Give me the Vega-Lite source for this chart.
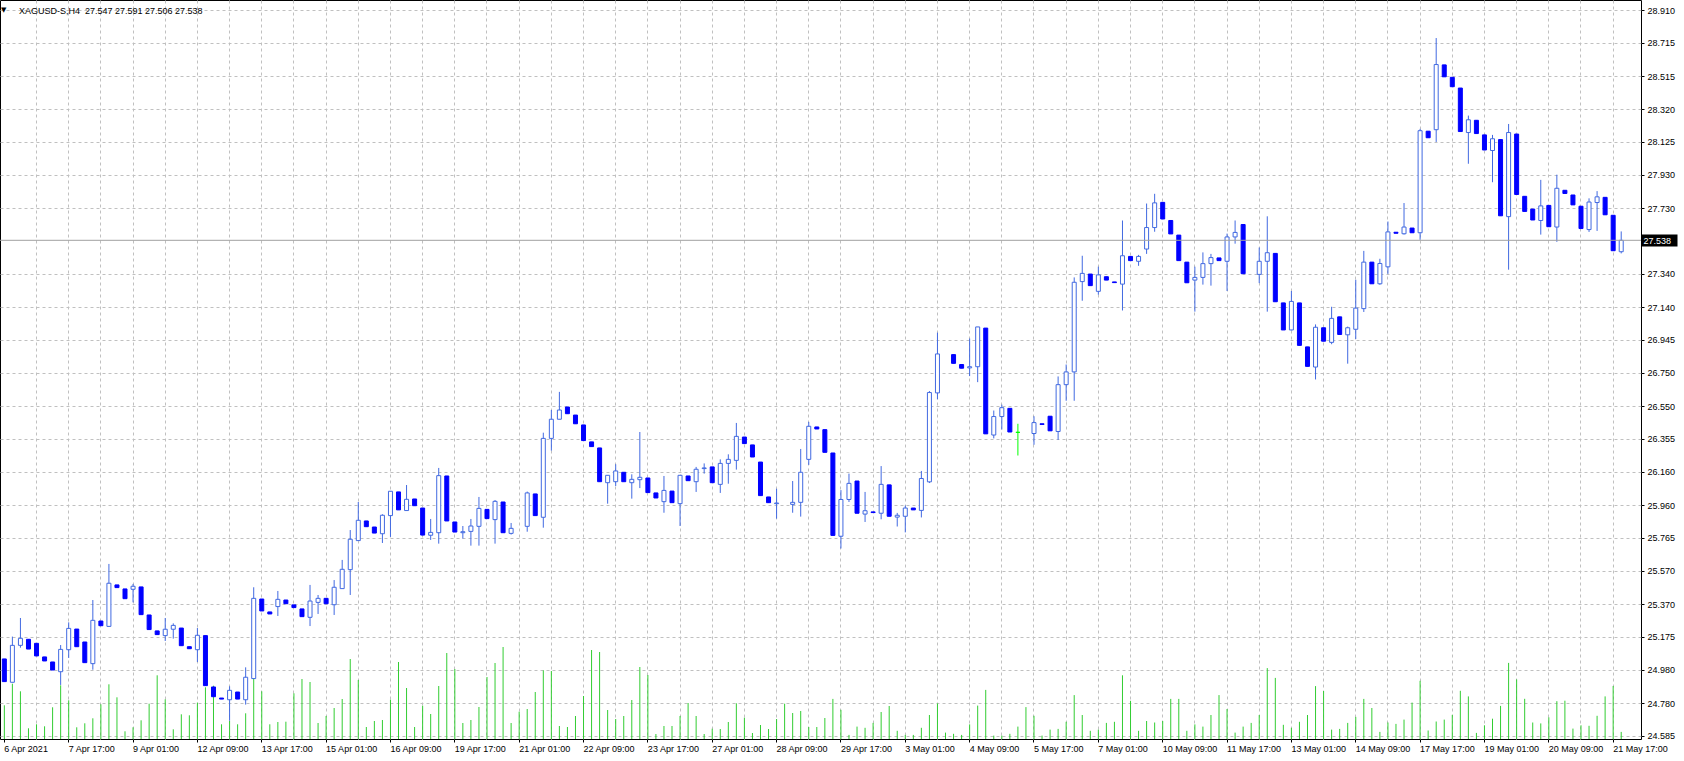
{
"$schema": "https://vega.github.io/schema/vega-lite/v6.json",
"width": 1641, "height": 739,
"autosize": {"type": "none"},
"padding": {"left": 0, "top": 0, "right": 43, "bottom": 22},
"background": "#FFFFFF",
"config": {
  "view": {"stroke": "#000000", "strokeWidth": 1},
  "axis": {"labelFont": "Liberation Sans", "labelFontSize": 9, "labelColor": "#000000", "tickColor": "#000000", "gridColor": "#C0C0C0", "gridDash": [3, 3], "gridWidth": 1, "domain": false, "title": null}
},
"datasets": {"bars": [
{"t":"6 Apr 09:00","o":25.044,"h":25.044,"l":24.909,"c":24.909,"v":3370},
{"t":"6 Apr 13:00","o":24.905,"h":25.177,"l":24.905,"c":25.125,"v":5530},
{"t":"6 Apr 17:00","o":25.125,"h":25.288,"l":25.111,"c":25.167,"v":4770},
{"t":"6 Apr 21:00","o":25.161,"h":25.161,"l":25.103,"c":25.103,"v":1070},
{"t":"7 Apr 01:00","o":25.137,"h":25.137,"l":25.062,"c":25.062,"v":1470},
{"t":"7 Apr 05:00","o":25.056,"h":25.056,"l":25.032,"c":25.032,"v":1270},
{"t":"7 Apr 09:00","o":25.026,"h":25.026,"l":24.978,"c":24.978,"v":3170},
{"t":"7 Apr 13:00","o":24.968,"h":25.127,"l":24.889,"c":25.101,"v":5370},
{"t":"7 Apr 17:00","o":25.099,"h":25.262,"l":25.050,"c":25.226,"v":3870},
{"t":"7 Apr 21:00","o":25.222,"h":25.222,"l":25.117,"c":25.117,"v":1170},
{"t":"8 Apr 01:00","o":25.145,"h":25.145,"l":25.022,"c":25.022,"v":1570},
{"t":"8 Apr 05:00","o":25.016,"h":25.395,"l":24.980,"c":25.274,"v":2070},
{"t":"8 Apr 09:00","o":25.270,"h":25.270,"l":25.242,"c":25.242,"v":3470},
{"t":"8 Apr 13:00","o":25.238,"h":25.610,"l":25.236,"c":25.495,"v":5470},
{"t":"8 Apr 17:00","o":25.485,"h":25.485,"l":25.469,"c":25.469,"v":4170},
{"t":"8 Apr 21:00","o":25.461,"h":25.461,"l":25.403,"c":25.403,"v":770},
{"t":"9 Apr 01:00","o":25.459,"h":25.491,"l":25.381,"c":25.477,"v":1170},
{"t":"9 Apr 05:00","o":25.473,"h":25.473,"l":25.308,"c":25.308,"v":1870},
{"t":"9 Apr 09:00","o":25.306,"h":25.306,"l":25.219,"c":25.219,"v":3530},
{"t":"9 Apr 13:00","o":25.211,"h":25.211,"l":25.189,"c":25.189,"v":6370},
{"t":"9 Apr 17:00","o":25.183,"h":25.288,"l":25.151,"c":25.221,"v":3970},
{"t":"9 Apr 21:00","o":25.221,"h":25.256,"l":25.165,"c":25.244,"v":970},
{"t":"12 Apr 01:00","o":25.228,"h":25.228,"l":25.123,"c":25.123,"v":2470},
{"t":"12 Apr 05:00","o":25.117,"h":25.117,"l":25.105,"c":25.105,"v":2370},
{"t":"12 Apr 09:00","o":25.099,"h":25.228,"l":25.026,"c":25.185,"v":3630},
{"t":"12 Apr 13:00","o":25.183,"h":25.183,"l":24.885,"c":24.885,"v":5170},
{"t":"12 Apr 17:00","o":24.877,"h":24.877,"l":24.819,"c":24.819,"v":5330},
{"t":"12 Apr 21:00","o":24.811,"h":24.811,"l":24.805,"c":24.805,"v":1470},
{"t":"13 Apr 01:00","o":24.801,"h":24.881,"l":24.676,"c":24.857,"v":1800},
{"t":"13 Apr 05:00","o":24.847,"h":24.847,"l":24.805,"c":24.805,"v":1470},
{"t":"13 Apr 09:00","o":24.801,"h":24.994,"l":24.772,"c":24.935,"v":2570},
{"t":"13 Apr 13:00","o":24.927,"h":25.471,"l":24.927,"c":25.405,"v":7130},
{"t":"13 Apr 17:00","o":25.401,"h":25.401,"l":25.330,"c":25.330,"v":4770},
{"t":"13 Apr 21:00","o":25.324,"h":25.324,"l":25.312,"c":25.312,"v":1470},
{"t":"14 Apr 01:00","o":25.356,"h":25.449,"l":25.300,"c":25.399,"v":1700},
{"t":"14 Apr 05:00","o":25.395,"h":25.395,"l":25.373,"c":25.373,"v":1730},
{"t":"14 Apr 09:00","o":25.366,"h":25.366,"l":25.350,"c":25.350,"v":4570},
{"t":"14 Apr 13:00","o":25.342,"h":25.342,"l":25.296,"c":25.296,"v":6000},
{"t":"14 Apr 17:00","o":25.292,"h":25.485,"l":25.240,"c":25.389,"v":5700},
{"t":"14 Apr 21:00","o":25.381,"h":25.425,"l":25.312,"c":25.405,"v":1600},
{"t":"15 Apr 01:00","o":25.405,"h":25.405,"l":25.373,"c":25.373,"v":2300},
{"t":"15 Apr 05:00","o":25.367,"h":25.514,"l":25.306,"c":25.471,"v":3100},
{"t":"15 Apr 09:00","o":25.463,"h":25.634,"l":25.463,"c":25.578,"v":4000},
{"t":"15 Apr 13:00","o":25.576,"h":25.812,"l":25.425,"c":25.757,"v":8000},
{"t":"15 Apr 17:00","o":25.749,"h":25.979,"l":25.749,"c":25.870,"v":5900},
{"t":"15 Apr 21:00","o":25.866,"h":25.866,"l":25.832,"c":25.832,"v":1200},
{"t":"16 Apr 01:00","o":25.830,"h":25.830,"l":25.794,"c":25.794,"v":1800},
{"t":"16 Apr 05:00","o":25.790,"h":25.906,"l":25.735,"c":25.900,"v":1900},
{"t":"16 Apr 09:00","o":25.898,"h":26.043,"l":25.771,"c":26.043,"v":3930},
{"t":"16 Apr 13:00","o":26.039,"h":26.039,"l":25.932,"c":25.932,"v":7700},
{"t":"16 Apr 17:00","o":25.928,"h":26.080,"l":25.928,"c":25.995,"v":5100},
{"t":"16 Apr 21:00","o":25.997,"h":25.997,"l":25.957,"c":25.957,"v":1200},
{"t":"19 Apr 01:00","o":25.943,"h":25.943,"l":25.782,"c":25.782,"v":3330},
{"t":"19 Apr 05:00","o":25.781,"h":25.878,"l":25.753,"c":25.798,"v":2500},
{"t":"19 Apr 09:00","o":25.796,"h":26.182,"l":25.731,"c":26.136,"v":5300},
{"t":"19 Apr 13:00","o":26.134,"h":26.134,"l":25.866,"c":25.866,"v":8600},
{"t":"19 Apr 17:00","o":25.860,"h":25.860,"l":25.800,"c":25.800,"v":7000},
{"t":"19 Apr 21:00","o":25.796,"h":25.836,"l":25.761,"c":25.802,"v":1600},
{"t":"20 Apr 01:00","o":25.804,"h":25.878,"l":25.719,"c":25.836,"v":1900},
{"t":"20 Apr 05:00","o":25.834,"h":26.009,"l":25.719,"c":25.941,"v":3200},
{"t":"20 Apr 09:00","o":25.935,"h":25.935,"l":25.880,"c":25.880,"v":6200},
{"t":"20 Apr 13:00","o":25.874,"h":25.991,"l":25.731,"c":25.983,"v":7600},
{"t":"20 Apr 17:00","o":25.979,"h":25.979,"l":25.796,"c":25.796,"v":9200},
{"t":"20 Apr 21:00","o":25.792,"h":25.854,"l":25.785,"c":25.822,"v":1600},
{"t":"21 Apr 01:00","o":25.830,"h":25.830,"l":25.830,"c":25.830,"v":2730},
{"t":"21 Apr 05:00","o":25.834,"h":26.041,"l":25.802,"c":26.033,"v":3000},
{"t":"21 Apr 09:00","o":26.027,"h":26.027,"l":25.898,"c":25.898,"v":4700},
{"t":"21 Apr 13:00","o":25.888,"h":26.392,"l":25.826,"c":26.358,"v":6870},
{"t":"21 Apr 17:00","o":26.358,"h":26.527,"l":26.285,"c":26.472,"v":6800},
{"t":"21 Apr 21:00","o":26.472,"h":26.635,"l":26.472,"c":26.527,"v":1300},
{"t":"22 Apr 01:00","o":26.545,"h":26.545,"l":26.505,"c":26.505,"v":1200},
{"t":"22 Apr 05:00","o":26.497,"h":26.497,"l":26.445,"c":26.445,"v":2300},
{"t":"22 Apr 09:00","o":26.438,"h":26.438,"l":26.345,"c":26.345,"v":4300},
{"t":"22 Apr 13:00","o":26.337,"h":26.337,"l":26.309,"c":26.309,"v":8900},
{"t":"22 Apr 17:00","o":26.301,"h":26.301,"l":26.100,"c":26.100,"v":8700},
{"t":"22 Apr 21:00","o":26.094,"h":26.138,"l":25.969,"c":26.138,"v":2900},
{"t":"23 Apr 01:00","o":26.100,"h":26.204,"l":26.074,"c":26.164,"v":2000},
{"t":"23 Apr 05:00","o":26.156,"h":26.156,"l":26.100,"c":26.100,"v":2300},
{"t":"23 Apr 09:00","o":26.094,"h":26.144,"l":25.999,"c":26.114,"v":3900},
{"t":"23 Apr 13:00","o":26.112,"h":26.396,"l":26.062,"c":26.126,"v":7200},
{"t":"23 Apr 17:00","o":26.122,"h":26.122,"l":26.035,"c":26.035,"v":6400},
{"t":"23 Apr 21:00","o":26.033,"h":26.033,"l":26.003,"c":26.003,"v":500},
{"t":"26 Apr 01:00","o":25.981,"h":26.134,"l":25.915,"c":26.048,"v":1300},
{"t":"26 Apr 05:00","o":26.044,"h":26.044,"l":25.975,"c":25.975,"v":1300},
{"t":"26 Apr 09:00","o":25.969,"h":26.138,"l":25.836,"c":26.138,"v":2300},
{"t":"26 Apr 13:00","o":26.134,"h":26.134,"l":26.106,"c":26.106,"v":3600},
{"t":"26 Apr 17:00","o":26.100,"h":26.188,"l":26.039,"c":26.174,"v":2300},
{"t":"26 Apr 21:00","o":26.178,"h":26.209,"l":26.148,"c":26.182,"v":500},
{"t":"27 Apr 01:00","o":26.188,"h":26.188,"l":26.094,"c":26.094,"v":1030},
{"t":"27 Apr 05:00","o":26.084,"h":26.233,"l":26.033,"c":26.209,"v":1000},
{"t":"27 Apr 09:00","o":26.209,"h":26.263,"l":26.088,"c":26.233,"v":1700},
{"t":"27 Apr 13:00","o":26.227,"h":26.450,"l":26.172,"c":26.370,"v":3570},
{"t":"27 Apr 17:00","o":26.366,"h":26.366,"l":26.327,"c":26.327,"v":2130},
{"t":"27 Apr 21:00","o":26.319,"h":26.319,"l":26.247,"c":26.247,"v":600},
{"t":"28 Apr 01:00","o":26.217,"h":26.217,"l":26.017,"c":26.017,"v":1400},
{"t":"28 Apr 05:00","o":26.009,"h":26.009,"l":25.975,"c":25.975,"v":1000},
{"t":"28 Apr 09:00","o":25.969,"h":26.058,"l":25.880,"c":25.973,"v":2000},
{"t":"28 Apr 13:00","o":25.970,"h":25.970,"l":25.970,"c":25.970,"v":3530},
{"t":"28 Apr 17:00","o":25.965,"h":26.104,"l":25.915,"c":25.977,"v":2600},
{"t":"28 Apr 21:00","o":25.977,"h":26.295,"l":25.892,"c":26.156,"v":2800},
{"t":"29 Apr 01:00","o":26.233,"h":26.456,"l":26.200,"c":26.430,"v":1200},
{"t":"29 Apr 05:00","o":26.426,"h":26.426,"l":26.414,"c":26.414,"v":1200},
{"t":"29 Apr 09:00","o":26.410,"h":26.410,"l":26.275,"c":26.275,"v":2100},
{"t":"29 Apr 13:00","o":26.271,"h":26.271,"l":25.780,"c":25.780,"v":4010},
{"t":"29 Apr 17:00","o":25.775,"h":26.050,"l":25.702,"c":25.994,"v":2920},
{"t":"29 Apr 21:00","o":25.994,"h":26.148,"l":25.979,"c":26.090,"v":410},
{"t":"30 Apr 01:00","o":26.104,"h":26.104,"l":25.912,"c":25.912,"v":1240},
{"t":"30 Apr 05:00","o":25.907,"h":26.039,"l":25.860,"c":25.927,"v":1120},
{"t":"30 Apr 09:00","o":25.920,"h":25.920,"l":25.916,"c":25.916,"v":1610},
{"t":"30 Apr 13:00","o":25.912,"h":26.193,"l":25.876,"c":26.084,"v":2700},
{"t":"30 Apr 17:00","o":26.081,"h":26.081,"l":25.894,"c":25.894,"v":3300},
{"t":"30 Apr 21:00","o":25.889,"h":25.914,"l":25.833,"c":25.900,"v":820},
{"t":"3 May 01:00","o":25.894,"h":25.958,"l":25.798,"c":25.943,"v":410},
{"t":"3 May 05:00","o":25.943,"h":25.943,"l":25.932,"c":25.932,"v":410},
{"t":"3 May 09:00","o":25.929,"h":26.164,"l":25.887,"c":26.119,"v":1120},
{"t":"3 May 13:00","o":26.099,"h":26.640,"l":26.092,"c":26.631,"v":2400},
{"t":"3 May 17:00","o":26.629,"h":26.988,"l":26.591,"c":26.861,"v":3560},
{"t":"3 May 21:00","o":26.860,"h":26.860,"l":26.860,"c":26.860,"v":640},
{"t":"4 May 01:00","o":26.857,"h":26.857,"l":26.805,"c":26.805,"v":520},
{"t":"4 May 05:00","o":26.798,"h":26.798,"l":26.776,"c":26.776,"v":410},
{"t":"4 May 09:00","o":26.778,"h":26.953,"l":26.729,"c":26.785,"v":1460},
{"t":"4 May 13:00","o":26.785,"h":27.022,"l":26.693,"c":27.022,"v":3340},
{"t":"4 May 17:00","o":27.015,"h":27.015,"l":26.385,"c":26.385,"v":4910},
{"t":"4 May 21:00","o":26.378,"h":26.524,"l":26.358,"c":26.488,"v":340},
{"t":"5 May 01:00","o":26.488,"h":26.559,"l":26.411,"c":26.541,"v":340},
{"t":"5 May 05:00","o":26.537,"h":26.537,"l":26.396,"c":26.396,"v":520},
{"t":"5 May 09:00","o":26.394,"h":26.445,"l":26.256,"c":26.394,"v":1240},
{"t":"5 May 13:00","o":26.390,"h":26.390,"l":26.390,"c":26.390,"v":3190},
{"t":"5 May 17:00","o":26.387,"h":26.490,"l":26.320,"c":26.452,"v":2320},
{"t":"5 May 21:00","o":26.445,"h":26.445,"l":26.441,"c":26.441,"v":340},
{"t":"6 May 01:00","o":26.490,"h":26.490,"l":26.403,"c":26.403,"v":940},
{"t":"6 May 05:00","o":26.399,"h":26.727,"l":26.349,"c":26.678,"v":1010},
{"t":"6 May 09:00","o":26.678,"h":26.798,"l":26.582,"c":26.754,"v":1720},
{"t":"6 May 13:00","o":26.754,"h":27.317,"l":26.582,"c":27.288,"v":4390},
{"t":"6 May 17:00","o":27.292,"h":27.446,"l":27.178,"c":27.341,"v":2400},
{"t":"6 May 21:00","o":27.337,"h":27.337,"l":27.268,"c":27.268,"v":820},
{"t":"7 May 01:00","o":27.234,"h":27.381,"l":27.214,"c":27.332,"v":940},
{"t":"7 May 05:00","o":27.321,"h":27.321,"l":27.301,"c":27.301,"v":1610},
{"t":"7 May 09:00","o":27.290,"h":27.290,"l":27.286,"c":27.286,"v":1720},
{"t":"7 May 13:00","o":27.277,"h":27.656,"l":27.120,"c":27.446,"v":6370},
{"t":"7 May 17:00","o":27.442,"h":27.442,"l":27.417,"c":27.417,"v":3820},
{"t":"7 May 21:00","o":27.413,"h":27.451,"l":27.386,"c":27.442,"v":820},
{"t":"10 May 01:00","o":27.486,"h":27.757,"l":27.457,"c":27.614,"v":1800},
{"t":"10 May 05:00","o":27.614,"h":27.815,"l":27.589,"c":27.761,"v":1650},
{"t":"10 May 09:00","o":27.764,"h":27.764,"l":27.665,"c":27.665,"v":1800},
{"t":"10 May 13:00","o":27.656,"h":27.656,"l":27.576,"c":27.576,"v":4010},
{"t":"10 May 17:00","o":27.569,"h":27.569,"l":27.417,"c":27.417,"v":4010},
{"t":"10 May 21:00","o":27.408,"h":27.408,"l":27.285,"c":27.285,"v":820},
{"t":"11 May 01:00","o":27.301,"h":27.381,"l":27.113,"c":27.317,"v":1460},
{"t":"11 May 05:00","o":27.317,"h":27.466,"l":27.274,"c":27.399,"v":1240},
{"t":"11 May 09:00","o":27.399,"h":27.457,"l":27.268,"c":27.435,"v":2400},
{"t":"11 May 13:00","o":27.433,"h":27.433,"l":27.417,"c":27.417,"v":4390},
{"t":"11 May 17:00","o":27.413,"h":27.578,"l":27.236,"c":27.558,"v":3000},
{"t":"11 May 21:00","o":27.558,"h":27.656,"l":27.518,"c":27.585,"v":640},
{"t":"12 May 01:00","o":27.632,"h":27.632,"l":27.339,"c":27.339,"v":1240},
{"t":"12 May 05:00","o":27.340,"h":27.340,"l":27.340,"c":27.340,"v":1610},
{"t":"12 May 09:00","o":27.335,"h":27.495,"l":27.283,"c":27.413,"v":2400},
{"t":"12 May 13:00","o":27.413,"h":27.681,"l":27.113,"c":27.464,"v":7090},
{"t":"12 May 17:00","o":27.460,"h":27.460,"l":27.172,"c":27.172,"v":6110},
{"t":"12 May 21:00","o":27.165,"h":27.165,"l":27.004,"c":27.004,"v":1420},
{"t":"13 May 01:00","o":27.004,"h":27.236,"l":27.002,"c":27.174,"v":1120},
{"t":"13 May 05:00","o":27.165,"h":27.165,"l":26.912,"c":26.912,"v":1720},
{"t":"13 May 09:00","o":26.903,"h":26.903,"l":26.787,"c":26.787,"v":2400},
{"t":"13 May 13:00","o":26.783,"h":27.037,"l":26.709,"c":27.020,"v":5290},
{"t":"13 May 17:00","o":27.017,"h":27.017,"l":26.937,"c":26.937,"v":4800},
{"t":"13 May 21:00","o":26.930,"h":27.142,"l":26.919,"c":27.073,"v":940},
{"t":"14 May 01:00","o":27.082,"h":27.082,"l":26.977,"c":26.977,"v":1010},
{"t":"14 May 05:00","o":26.975,"h":27.024,"l":26.803,"c":27.017,"v":1610},
{"t":"14 May 09:00","o":27.008,"h":27.303,"l":26.950,"c":27.134,"v":2210},
{"t":"14 May 13:00","o":27.131,"h":27.475,"l":27.111,"c":27.408,"v":4010},
{"t":"14 May 17:00","o":27.408,"h":27.408,"l":27.279,"c":27.279,"v":3100},
{"t":"14 May 21:00","o":27.279,"h":27.428,"l":27.273,"c":27.400,"v":710},
{"t":"17 May 01:00","o":27.380,"h":27.650,"l":27.338,"c":27.588,"v":1650},
{"t":"17 May 05:00","o":27.586,"h":27.586,"l":27.580,"c":27.580,"v":1510},
{"t":"17 May 09:00","o":27.577,"h":27.760,"l":27.572,"c":27.617,"v":1940},
{"t":"17 May 13:00","o":27.611,"h":27.611,"l":27.583,"c":27.583,"v":3640},
{"t":"17 May 17:00","o":27.583,"h":28.202,"l":27.541,"c":28.191,"v":5820},
{"t":"17 May 21:00","o":28.188,"h":28.188,"l":28.149,"c":28.149,"v":850},
{"t":"18 May 01:00","o":28.197,"h":28.743,"l":28.124,"c":28.585,"v":1750},
{"t":"18 May 05:00","o":28.583,"h":28.583,"l":28.512,"c":28.512,"v":1940},
{"t":"18 May 09:00","o":28.509,"h":28.509,"l":28.453,"c":28.453,"v":2410},
{"t":"18 May 13:00","o":28.445,"h":28.445,"l":28.186,"c":28.186,"v":4820},
{"t":"18 May 17:00","o":28.180,"h":28.281,"l":27.994,"c":28.256,"v":4260},
{"t":"18 May 21:00","o":28.253,"h":28.253,"l":28.174,"c":28.174,"v":610},
{"t":"19 May 01:00","o":28.166,"h":28.166,"l":28.076,"c":28.076,"v":1370},
{"t":"19 May 05:00","o":28.073,"h":28.166,"l":27.884,"c":28.143,"v":2030},
{"t":"19 May 09:00","o":28.138,"h":28.138,"l":27.684,"c":27.684,"v":3310},
{"t":"19 May 13:00","o":27.679,"h":28.231,"l":27.363,"c":28.180,"v":7610},
{"t":"19 May 17:00","o":28.171,"h":28.171,"l":27.811,"c":27.811,"v":5960},
{"t":"19 May 21:00","o":27.800,"h":27.800,"l":27.710,"c":27.710,"v":4020},
{"t":"20 May 01:00","o":27.724,"h":27.724,"l":27.659,"c":27.659,"v":1650},
{"t":"20 May 05:00","o":27.656,"h":27.898,"l":27.572,"c":27.743,"v":1560},
{"t":"20 May 09:00","o":27.746,"h":27.746,"l":27.619,"c":27.619,"v":2170},
{"t":"20 May 13:00","o":27.617,"h":27.929,"l":27.529,"c":27.848,"v":3780},
{"t":"20 May 17:00","o":27.836,"h":27.836,"l":27.817,"c":27.817,"v":3830},
{"t":"20 May 21:00","o":27.808,"h":27.808,"l":27.749,"c":27.749,"v":1040},
{"t":"21 May 01:00","o":27.741,"h":27.741,"l":27.608,"c":27.608,"v":1370},
{"t":"21 May 05:00","o":27.602,"h":27.788,"l":27.588,"c":27.766,"v":1320},
{"t":"21 May 09:00","o":27.763,"h":27.831,"l":27.594,"c":27.797,"v":2320},
{"t":"21 May 13:00","o":27.794,"h":27.794,"l":27.690,"c":27.690,"v":4260},
{"t":"21 May 17:00","o":27.687,"h":27.687,"l":27.476,"c":27.476,"v":5300},
{"t":"21 May 21:00","o":27.470,"h":27.591,"l":27.460,"c":27.538,"v":710}
]},
"data": {"name": "bars"},
"resolve": {"scale": {"x": "independent", "y": "independent"}, "axis": {"x": "independent", "y": "independent"}},
"layer": [
{
  "mark": {"type": "rule", "color": "#32CD32", "strokeWidth": 1},
  "encoding": {
    "x": {"field": "t", "type": "ordinal", "sort": null,
      "scale": {"type": "band", "paddingInner": 0, "paddingOuter": 1.5625, "align": 0.02, "round": false},
      "axis": {"orient": "bottom", "grid": true, "labels": false, "ticks": false, "domain": false,
        "values": ["7 Apr 01:00","7 Apr 17:00","8 Apr 09:00","9 Apr 01:00","9 Apr 17:00","12 Apr 09:00","13 Apr 01:00","13 Apr 17:00","14 Apr 09:00","15 Apr 01:00","15 Apr 17:00","16 Apr 09:00","19 Apr 01:00","19 Apr 17:00","20 Apr 09:00","21 Apr 01:00","21 Apr 17:00","22 Apr 09:00","23 Apr 01:00","23 Apr 17:00","26 Apr 09:00","27 Apr 01:00","27 Apr 17:00","28 Apr 09:00","29 Apr 01:00","29 Apr 17:00","30 Apr 09:00","3 May 01:00","3 May 17:00","4 May 09:00","5 May 01:00","5 May 17:00","6 May 09:00","7 May 01:00","7 May 17:00","10 May 09:00","11 May 01:00","11 May 17:00","12 May 09:00","13 May 01:00","13 May 17:00","14 May 09:00","17 May 01:00","17 May 17:00","18 May 09:00","19 May 01:00","19 May 17:00","20 May 09:00","21 May 01:00","21 May 17:00"]}},
    "y": {"field": "v", "type": "quantitative", "scale": {"domain": [0, 73900], "nice": false, "zero": true}, "axis": null},
    "y2": {"datum": 0}
  }
},
{
  "mark": {"type": "rule", "strokeWidth": 1},
  "encoding": {
    "x": {"field": "t", "type": "ordinal", "sort": null,
      "scale": {"type": "band", "paddingInner": 0, "paddingOuter": 1.5625, "align": 0.02, "round": false},
      "axis": {"orient": "bottom", "grid": false, "labelAlign": "left", "labelBaseline": "top", "labelPadding": 2, "tickSize": 3, "labelAngle": 0, "labelOverlap": false, "labelBound": false, "labelFlush": false,
        "labelExpr": "datum.value == '6 Apr 09:00' ? '6 Apr 2021' : datum.value",
        "values": ["6 Apr 09:00","7 Apr 17:00","9 Apr 01:00","12 Apr 09:00","13 Apr 17:00","15 Apr 01:00","16 Apr 09:00","19 Apr 17:00","21 Apr 01:00","22 Apr 09:00","23 Apr 17:00","27 Apr 01:00","28 Apr 09:00","29 Apr 17:00","3 May 01:00","4 May 09:00","5 May 17:00","7 May 01:00","10 May 09:00","11 May 17:00","13 May 01:00","14 May 09:00","17 May 17:00","19 May 01:00","20 May 09:00","21 May 17:00"]}},
    "y": {"field": "h", "type": "quantitative", "scale": {"domain": [24.5671, 28.9696], "nice": false, "zero": false},
      "axis": {"orient": "right", "grid": true, "format": ".3f", "tickSize": 3, "labelPadding": 3, "labelAlign": "left", "labelBaseline": "middle",
        "values": [28.910, 28.715, 28.515, 28.320, 28.125, 27.930, 27.730, 27.340, 27.140, 26.945, 26.750, 26.550, 26.355, 26.160, 25.960, 25.765, 25.570, 25.370, 25.175, 24.980, 24.780, 24.585]}},
    "y2": {"field": "l"},
    "color": {"condition": [{"test": "datum.c > datum.o", "value": "#4169E1"}, {"test": "datum.c < datum.o", "value": "#0000FF"}], "value": "#00FF00"}
  }
},
{
  "mark": {"type": "bar", "width": 4, "strokeWidth": 1},
  "encoding": {
    "x": {"field": "t", "type": "ordinal", "sort": null,
      "scale": {"type": "band", "paddingInner": 0, "paddingOuter": 1.5625, "align": 0.02, "round": false}, "axis": null},
    "y": {"field": "o", "type": "quantitative", "scale": {"domain": [24.5671, 28.9696], "nice": false, "zero": false}, "axis": null},
    "y2": {"field": "c"},
    "fill": {"condition": [{"test": "datum.c > datum.o", "value": "#FFFFFF"}, {"test": "datum.c < datum.o", "value": "#0000FF"}], "value": "transparent"},
    "stroke": {"condition": [{"test": "datum.c > datum.o", "value": "#4169E1"}, {"test": "datum.c < datum.o", "value": "#0000FF"}, {"test": "datum.h > datum.l", "value": "#00FF00"}], "value": "transparent"}
  }
},
{
  "data": {"values": [{"p": 27.538}]},
  "mark": {"type": "rule", "color": "#A0A0A0", "strokeWidth": 1},
  "encoding": {
    "y": {"field": "p", "type": "quantitative", "scale": {"domain": [24.5671, 28.9696], "nice": false, "zero": false},
      "axis": {"orient": "right", "values": [27.538], "format": ".3f", "grid": false, "tickSize": 36, "tickWidth": 12, "tickColor": "#000000", "labelColor": "#FFFFFF", "labelPadding": -34, "labelAlign": "left", "labelBaseline": "middle", "zindex": 1}}
  }
},
{
  "data": {"values": [{"s": "▼"}]},
  "mark": {"type": "text", "align": "left", "baseline": "alphabetic", "dx": 1, "dy": 12, "font": "DejaVu Sans", "fontSize": 7, "color": "#000000"},
  "encoding": {
    "x": {"datum": 0, "type": "quantitative", "scale": {"domain": [0, 1]}, "axis": null},
    "y": {"datum": 1, "type": "quantitative", "scale": {"domain": [0, 1]}, "axis": null},
    "text": {"field": "s"}
  }
},
{
  "data": {"values": [{"s": "XAGUSD-S,H4\u00a0\u00a027.547 27.591 27.506 27.538"}]},
  "mark": {"type": "text", "align": "left", "baseline": "alphabetic", "dx": 19, "dy": 13.5, "font": "Liberation Sans", "fontSize": 9, "color": "#000000"},
  "encoding": {
    "x": {"datum": 0, "type": "quantitative", "scale": {"domain": [0, 1]}, "axis": null},
    "y": {"datum": 1, "type": "quantitative", "scale": {"domain": [0, 1]}, "axis": null},
    "text": {"field": "s"}
  }
}
]
}
